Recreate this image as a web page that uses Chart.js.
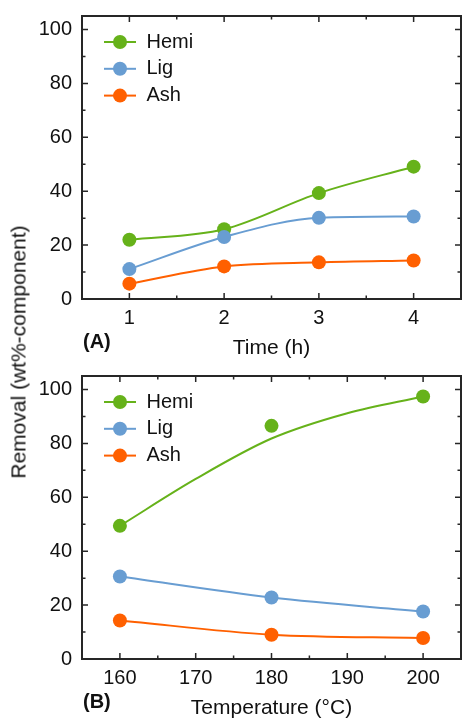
<!DOCTYPE html>
<html>
<head>
<meta charset="utf-8">
<script src="https://cdn.jsdelivr.net/npm/chart.js@4.4.1/dist/chart.umd.min.js"></script>
<style>
  body { margin: 0; width: 462px; height: 718px; overflow: hidden; background: #fff; position: relative; font-family: "Liberation Sans", Arial, sans-serif; }
  canvas { position: absolute; left: 0; }
  #panelA { top: 0; }
  #panelB { top: 360px; }
  #yTitle { position: absolute; left: 17.7px; top: 351.5px; transform: translate(-50%, -50%) rotate(-90deg); white-space: nowrap; font-size: 21px; line-height: 21px; color: #111; }
</style>
</head>
<body>
<canvas id="panelA" width="462" height="360"></canvas>
<canvas id="panelB" width="462" height="360"></canvas>
<div id="yTitle">Removal (wt%-component)</div>
<script>
// Panel (A): removal vs reaction time
const timeH = [1, 2, 3, 4];
const hemiTime = [22.0, 25.9, 39.3, 49.1];
const ligTime = [11.1, 23.0, 30.1, 30.6];
const ashTime = [5.7, 12.1, 13.6, 14.3];

// Panel (B): removal vs temperature
const tempC = [160, 180, 200];
const hemiTemp = [49.4, 86.5, 97.4];
const ligTemp = [30.6, 22.8, 17.6];
const ashTemp = [14.3, 9.0, 7.8];
// Hemi fit curve in (B) (it misses the 180 point)
const hemiFitTemp = [160, 170, 180, 190, 200];
const hemiFitVal = [49.4, 66.8, 81.8, 91.2, 97.4];

// ticks
const removalTicks = [0, 20, 40, 60, 80, 100];
const removalMinor = [10, 30, 50, 70, 90];
const timeTicks = [1, 2, 3, 4];
const timeMinor = [1.5, 2.5, 3.5];
const tempTicks = [160, 170, 180, 190, 200];
const tempMinor = [165, 175, 185, 195];

const seriesNames = ["Hemi", "Lig", "Ash"];
const seriesColors = ["#66b21a", "#689dd2", "#ff6000"];
const inkColor = "#111";
const frameColor = "#262626";

Chart.defaults.font.family = '"Liberation Sans", Arial, sans-serif';

function toXY(xs, ys) {
  return xs.map((x, i) => ({ x: x, y: ys[i] }));
}

function makePanel(id, opts) {
  const datasets = [];
  opts.series.forEach((s, i) => {
    const color = seriesColors[i];
    const order = (3 - i) * 2; // Ash drawn on top, Hemi at the bottom
    datasets.push({
      label: seriesNames[i] + " fit",
      data: toXY(s.fitX, s.fitY),
      showLine: true,
      borderColor: color,
      borderWidth: 2,
      pointRadius: 0,
      cubicInterpolationMode: "monotone",
      order: order,
    });
    datasets.push({
      label: seriesNames[i],
      data: toXY(s.x, s.y),
      showLine: false,
      backgroundColor: color,
      borderWidth: 0,
      pointRadius: 7,
      order: order - 1,
    });
  });

  // frame, inward ticks on all sides, legend and panel letter
  const framePlugin = {
    id: "frame",
    afterDatasetsDraw(chart) {
      const { ctx, chartArea: a, scales } = chart;
      const xs = scales.x;
      const ys = scales.y;
      ctx.save();
      ctx.strokeStyle = frameColor;
      ctx.lineWidth = 1.5;
      ctx.beginPath();
      const xTick = (v, len) => {
        const px = xs.getPixelForValue(v);
        ctx.moveTo(px, a.bottom);
        ctx.lineTo(px, a.bottom - len);
        ctx.moveTo(px, a.top);
        ctx.lineTo(px, a.top + len);
      };
      const yTick = (v, len) => {
        const py = ys.getPixelForValue(v);
        ctx.moveTo(a.left, py);
        ctx.lineTo(a.left + len, py);
        ctx.moveTo(a.right, py);
        ctx.lineTo(a.right - len, py);
      };
      opts.xTicks.forEach(v => xTick(v, 6));
      opts.xMinor.forEach(v => xTick(v, 3.5));
      removalTicks.forEach(v => yTick(v, 6));
      removalMinor.forEach(v => yTick(v, 3.5));
      ctx.stroke();

      ctx.lineWidth = 2;
      ctx.strokeRect(a.left, a.top, a.right - a.left, a.bottom - a.top);

      // legend
      ctx.font = '20px "Liberation Sans", Arial, sans-serif';
      ctx.textBaseline = "middle";
      ctx.textAlign = "left";
      seriesNames.forEach((name, i) => {
        const ly = a.top + 26 + i * 26.8;
        ctx.strokeStyle = seriesColors[i];
        ctx.lineWidth = 2;
        ctx.beginPath();
        ctx.moveTo(104, ly);
        ctx.lineTo(136, ly);
        ctx.stroke();
        ctx.fillStyle = seriesColors[i];
        ctx.beginPath();
        ctx.arc(120, ly, 7, 0, Math.PI * 2);
        ctx.fill();
        ctx.fillStyle = inkColor;
        ctx.fillText(name, 146.5, ly);
      });

      ctx.font = 'bold 20px "Liberation Sans", Arial, sans-serif';
      ctx.fillStyle = inkColor;
      ctx.fillText(opts.letter, 83, 342.5);
      ctx.restore();
    },
  };

  return new Chart(document.getElementById(id), {
    type: "scatter",
    data: { datasets: datasets },
    plugins: [framePlugin],
    options: {
      responsive: false,
      animation: false,
      events: [],
      layout: { autoPadding: false, padding: { left: 0, right: 1, top: 16, bottom: 0 } },
      plugins: { legend: { display: false }, tooltip: { enabled: false } },
      scales: {
        x: {
          type: "linear",
          min: opts.xMin,
          max: opts.xMax,
          afterBuildTicks: s => { s.ticks = opts.xTicks.map(v => ({ value: v })); },
          afterFit: s => { s.height = 61; s.paddingLeft = 0; s.paddingRight = 0; },
          grid: { display: false, drawTicks: false },
          border: { display: false },
          ticks: { padding: 7, color: inkColor, font: { size: 20 }, maxRotation: 0, autoSkip: false },
          title: { display: true, text: opts.xTitle, color: inkColor, font: { size: 21 }, padding: { top: 0, bottom: -1 } },
        },
        y: {
          type: "linear",
          min: 0,
          max: 105,
          afterBuildTicks: s => { s.ticks = removalTicks.map(v => ({ value: v })); },
          afterFit: s => { s.width = 82; s.paddingTop = 0; s.paddingBottom = 0; },
          grid: { display: false, drawTicks: false },
          border: { display: false },
          ticks: { padding: 10, color: inkColor, font: { size: 20 } },
        },
      },
    },
  });
}

makePanel("panelA", {
  letter: "(A)",
  xTitle: "Time (h)",
  xMin: 0.5,
  xMax: 4.5,
  xTicks: timeTicks,
  xMinor: timeMinor,
  series: [
    { x: timeH, y: hemiTime, fitX: timeH, fitY: hemiTime },
    { x: timeH, y: ligTime, fitX: timeH, fitY: ligTime },
    { x: timeH, y: ashTime, fitX: timeH, fitY: ashTime },
  ],
});

makePanel("panelB", {
  letter: "(B)",
  xTitle: "Temperature (°C)",
  xMin: 155,
  xMax: 205,
  xTicks: tempTicks,
  xMinor: tempMinor,
  series: [
    { x: tempC, y: hemiTemp, fitX: hemiFitTemp, fitY: hemiFitVal },
    { x: tempC, y: ligTemp, fitX: tempC, fitY: ligTemp },
    { x: tempC, y: ashTemp, fitX: tempC, fitY: ashTemp },
  ],
});
</script>
</body>
</html>
